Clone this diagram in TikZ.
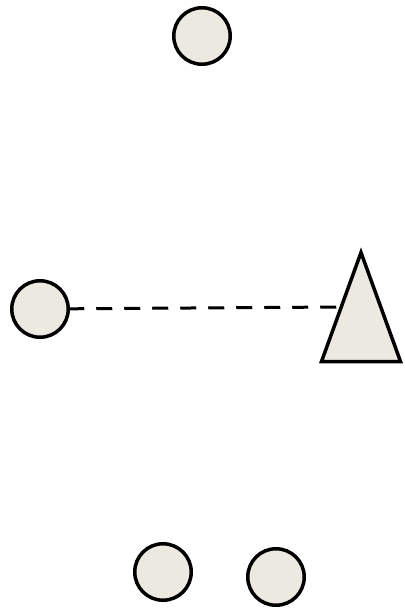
\documentclass[tikz,border=0pt]{standalone}
\usepackage{xcolor}
\usepackage{tikz}
\usetikzlibrary{shapes.geometric}
\usetikzlibrary{positioning}

\definecolor{sand}{RGB}{236,234,224}

\begin{document}
\begin{tikzpicture}[
  x=1pt, y=-1pt,
  blob/.style={circle, draw=black, fill=sand, line width=3.5pt, inner sep=0pt, outer sep=0pt, minimum size=56.5pt},
  peak/.style={isosceles triangle, shape border rotate=90, isosceles triangle stretches, draw=black, fill=sand, line width=3.5pt, inner sep=0pt, outer sep=0pt, minimum width=79pt, minimum height=109pt},
  link/.style={line width=3pt, dash pattern=on 16pt off 12pt},
]
  \useasboundingbox (0,0) rectangle (404,612);

  \node[blob] (top) at (202,36) {};
  \node[blob] (left) at (40,309) {};
  \node[peak, anchor=south] (tri) at (361,361.5) {};
  \node[blob] (botl) at (163,572) {};
  \node[blob] (botr) at (276,577) {};

  \draw[link] (left) -- (tri.left side);
\end{tikzpicture}
\end{document}
